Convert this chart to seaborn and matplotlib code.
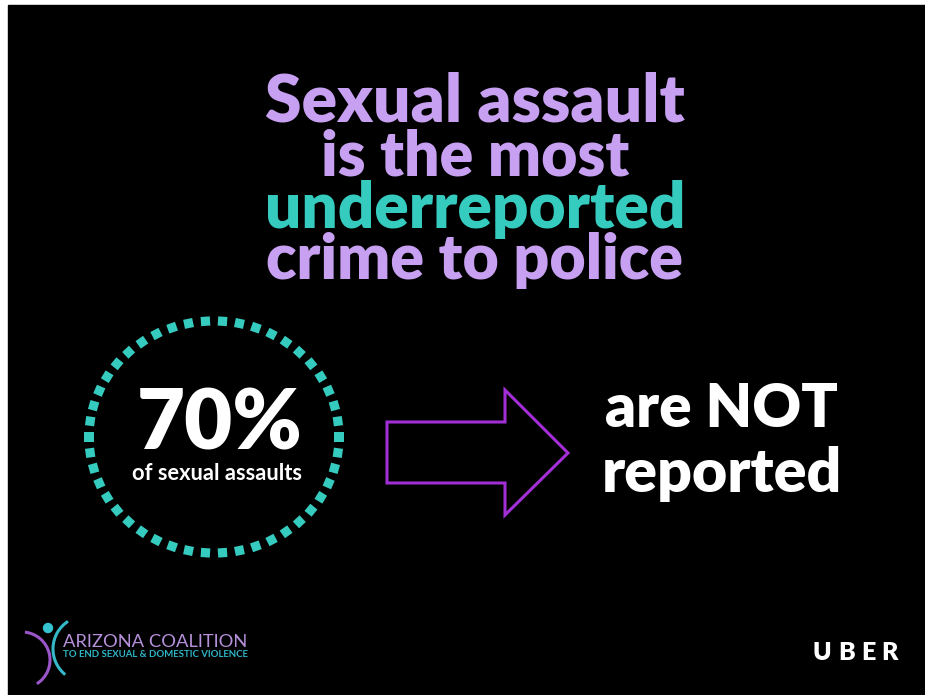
import numpy as np
import pandas as pd
import matplotlib
matplotlib.use("Agg")
import matplotlib.pyplot as plt
import seaborn as sns
from matplotlib.patches import Rectangle, Polygon, Arc, Circle
from matplotlib.markers import MarkerStyle
from matplotlib.transforms import Affine2D

# ---- content ----
title_lines = ["Sexual assault", "is the most", "underreported", "crime to police"]
title_colors = ["#C7A0F2", "#C7A0F2", "#35CBBF", "#C7A0F2"]
stat_value = 70
stat_label = "of sexual assaults"
outcome_lines = ["are NOT", "reported"]
org_name = "ARIZONA COALITION"
org_tagline = "TO END SEXUAL & DOMESTIC VIOLENCE"
sponsor = "UBER"
ring_count = 46

sns.set_theme(style="dark")
plt.rcParams['font.family'] = ['Lato', 'DejaVu Sans']

W, H = 925, 695
fig = plt.figure(figsize=(W / 100, H / 100), dpi=100, facecolor='white')
ax = fig.add_axes([0, 0, 1, 1])
ax.set_xlim(0, W)
ax.set_ylim(H, 0)
ax.axis('off')
ax.add_patch(Rectangle((8, 5), W - 8, H - 5, color='black', zorder=0))

fig.canvas.draw()
renderer = fig.canvas.get_renderer()


def fit_text(x, y, s, width, color, weight='heavy', ha='center', size0=40, **kw):
    t = ax.text(x, y, s, color=color, fontsize=size0, fontweight=weight,
                ha=ha, va='baseline', zorder=5, **kw)
    w = t.get_window_extent(renderer).width
    t.set_fontsize(size0 * width / w)
    return t


# ---- title ----
title_baselines = [122, 176, 228, 279]
title_widths = [420, 308, 420, 416]
for line, col, yb, wd in zip(title_lines, title_colors, title_baselines, title_widths):
    fit_text(475, yb, line, wd, col)

# ---- dotted ring (seaborn scatter with tangentially rotated squares) ----
theta = np.linspace(0, 2 * np.pi, ring_count, endpoint=False)
ring = pd.DataFrame({
    "x": 214 + 125 * np.cos(theta),
    "y": 437 + 116 * np.sin(theta),
    "k": [f"p{i}" for i in range(ring_count)],
})
markers = {f"p{i}": MarkerStyle('s', transform=Affine2D().rotate(-th))
           for i, th in enumerate(theta)}
sns.scatterplot(data=ring, x="x", y="y", style="k", markers=markers,
                s=44, color="#35CBBF", edgecolor="none", linewidth=0,
                legend=False, ax=ax, zorder=3)
ax.set_xlim(0, W)
ax.set_ylim(H, 0)
ax.axis('off')

fit_text(220, 450, f"{stat_value}%", 166, "white", size0=60)
fit_text(217, 480, stat_label, 171, "white", weight='bold', size0=14)

# ---- arrow ----
arrow_pts = [(387, 422), (505, 422), (505, 390), (568, 453),
             (505, 515), (505, 483), (387, 483)]
ax.add_patch(Polygon(arrow_pts, closed=True, fill=False,
                     edgecolor="#A22FD6", linewidth=2.2, joinstyle='miter', zorder=4))

# ---- outcome ----
fit_text(721, 427, outcome_lines[0], 233, "white")
fit_text(722, 492, outcome_lines[1], 240, "white")

# ---- logo ----
ax.add_patch(Circle((48, 628), 4.5, color="#35C3D0", zorder=4))
ax.add_patch(Arc((22, 660), 56, 56, theta1=-84, theta2=58,
                 color="#9A55C8", linewidth=2.2, zorder=4))
ax.add_patch(Arc((86, 649), 66, 66, theta1=129, theta2=237,
                 color="#35B8C8", linewidth=2.2, zorder=4))
fit_text(63, 647, org_name, 185, "#B690DA", weight='normal', ha='left', size0=15)
fit_text(63, 657, org_tagline, 185, "#2FB6C6", weight='bold', ha='left', size0=7)

# ---- sponsor ----
size = 18
letters = [ax.text(0, 660, c, color="white", fontsize=size, fontweight='heavy',
                   ha='left', va='baseline', zorder=5) for c in sponsor]
widths = [t.get_window_extent(renderer).width for t in letters]
track = (85 - sum(widths)) / (len(letters) - 1)
xpos = 813
for t, w in zip(letters, widths):
    t.set_x(xpos)
    xpos += w + track

fig.savefig("out.png", dpi=100, facecolor=fig.get_facecolor())
